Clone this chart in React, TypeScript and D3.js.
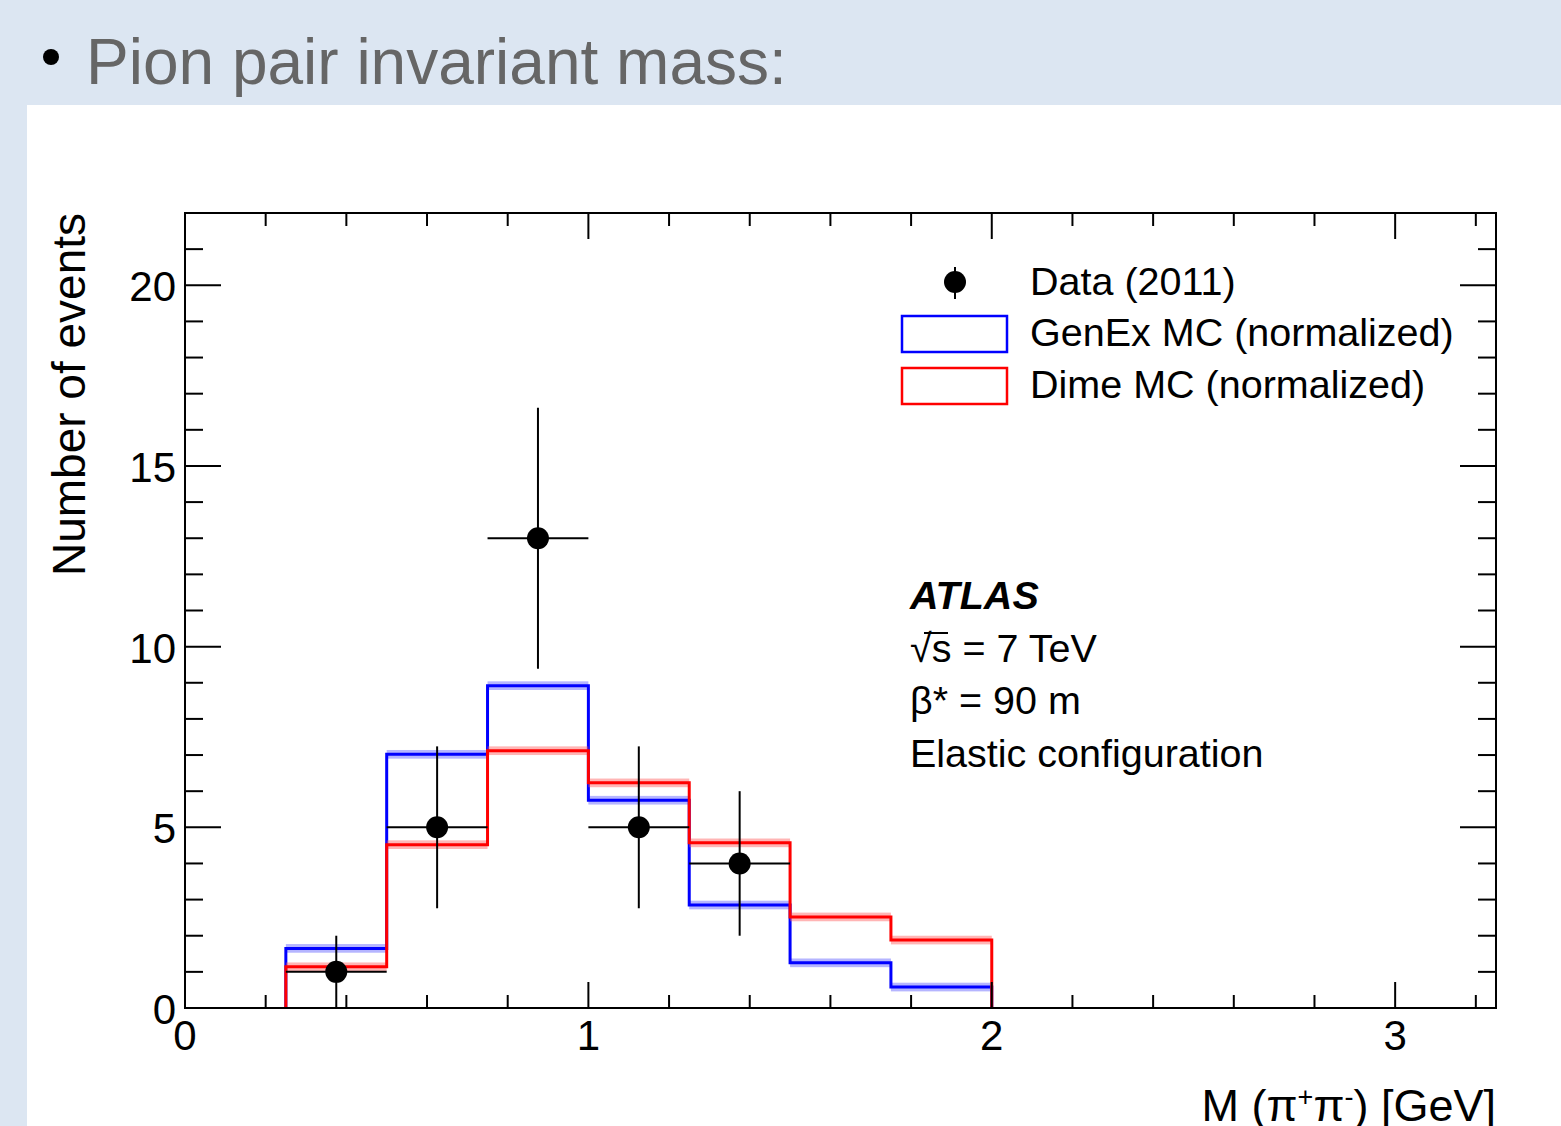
import React from "react";
import * as d3 from "d3";

// bin edges (GeV), width 0.25
const binLow = [0.25, 0.5, 0.75, 1.0, 1.25, 1.5, 1.75];
const binWidth = 0.25;
const genexValues = [1.65, 7.02, 8.92, 5.75, 2.85, 1.25, 0.58];
const dimeValues = [1.14, 4.52, 7.12, 6.23, 4.57, 2.52, 1.88];
const bandHalf = 0.12;

const dataX = [0.375, 0.625, 0.875, 1.125, 1.375];
const dataY = [1, 5, 13, 5, 4];
const dataErr = [1, 2.24, 3.61, 2.24, 2];

const xMajor = [0, 1, 2, 3];
const yMajor = [0, 5, 10, 15, 20];

const W = 1561;
const H = 1126;
const margin = { left: 185, right: 65, top: 213, bottom: 118 };
const font = "'Liberation Sans', Arial, Helvetica, sans-serif";

const x = d3.scaleLinear().domain([0, 3.25]).range([margin.left, W - margin.right]);
const y = d3.scaleLinear().domain([0, 22]).range([H - margin.bottom, margin.top]);

const stepPath = (vals: number[], offset = 0) => {
    const pts: [number, number][] = [[x(binLow[0]), y(0)]];
    vals.forEach((v, i) => {
        pts.push([x(binLow[i]), y(v + offset)]);
        pts.push([x(binLow[i] + binWidth), y(v + offset)]);
    });
    pts.push([x(binLow[binLow.length - 1] + binWidth), y(0)]);
    return d3.line()(pts) as string;
};

const bandRects = (vals: number[], fill: string) =>
    vals.map((v, i) => (
        <rect key={i} x={x(binLow[i])} width={x(binLow[i] + binWidth) - x(binLow[i])}
            y={y(v + bandHalf)} height={y(v - bandHalf) - y(v + bandHalf)} fill={fill} />
    ));

const App = () => {
    const x0 = x.range()[0], x1 = x.range()[1];
    const y0 = y.range()[0], y1 = y.range()[1];
    const xMinor = d3.range(0, 3.25 + 1e-9, 0.2);
    const yMinor = d3.range(0, 22 + 1e-9, 1);

    return (
        <svg width={W} height={H} style={{ position: "absolute", left: 0, top: 0 }}>
            <rect x={0} y={0} width={W} height={H} fill="#dce6f2" />
            <rect x={27} y={105} width={W - 27} height={H - 105} fill="#ffffff" />
            <circle cx={51} cy={57} r={8} fill="#000" />
            <text x={86} y={84} fontFamily={font} fontSize={64} fill="#666666">Pion pair invariant mass:</text>

            {/* MC histograms with bands */}
            <g>{bandRects(genexValues, "rgba(90,90,255,0.45)")}</g>
            <path d={stepPath(genexValues)} fill="none" stroke="#0000ff" strokeWidth={3} />
            <g>{bandRects(dimeValues, "rgba(255,90,90,0.45)")}</g>
            <path d={stepPath(dimeValues)} fill="none" stroke="#ff0000" strokeWidth={3} />

            {/* data with error bars */}
            {dataX.map((dx, i) => (
                <g key={i} stroke="#000" strokeWidth={2}>
                    <line x1={x(dx - binWidth / 2)} x2={x(dx + binWidth / 2)} y1={y(dataY[i])} y2={y(dataY[i])} />
                    <line x1={x(dx)} x2={x(dx)} y1={y(dataY[i] - dataErr[i])} y2={y(dataY[i] + dataErr[i])} />
                    <circle cx={x(dx)} cy={y(dataY[i])} r={11} fill="#000" stroke="none" />
                </g>
            ))}

            {/* frame and ticks */}
            <rect x={x0} y={y1} width={x1 - x0} height={y0 - y1} fill="none" stroke="#000" strokeWidth={2} />
            <g stroke="#000" strokeWidth={2}>
                {xMinor.map((t, i) => {
                    const major = Math.abs(t - Math.round(t)) < 1e-6;
                    const len = major ? 26 : 13;
                    return (
                        <g key={i}>
                            <line x1={x(t)} x2={x(t)} y1={y0} y2={y0 - len} />
                            <line x1={x(t)} x2={x(t)} y1={y1} y2={y1 + len} />
                        </g>
                    );
                })}
                {yMinor.map((t, i) => {
                    const len = t % 5 === 0 ? 36 : 18;
                    return (
                        <g key={i}>
                            <line x1={x0} x2={x0 + len} y1={y(t)} y2={y(t)} />
                            <line x1={x1} x2={x1 - len} y1={y(t)} y2={y(t)} />
                        </g>
                    );
                })}
            </g>
            {xMajor.map((t) => (
                <text key={t} x={x(t)} y={y0 + 42} textAnchor="middle" fontFamily={font} fontSize={42}>{t}</text>
            ))}
            {yMajor.map((t) => (
                <text key={t} x={x0 - 9} y={y(t) + 16} textAnchor="end" fontFamily={font} fontSize={42}>{t}</text>
            ))}
            <text transform="translate(85,213) rotate(-90)" textAnchor="end" fontFamily={font} fontSize={46}>Number of events</text>
            <text x={x1} y={1121} textAnchor="end" fontFamily={font} fontSize={45}>
                M (π<tspan dy={-15} fontSize={27}>+</tspan><tspan dy={15}>π</tspan><tspan dy={-15} fontSize={27}>-</tspan><tspan dy={15}>) [GeV]</tspan>
            </text>

            {/* legend */}
            <g fontFamily={font} fontSize={39.5}>
                <line x1={955} x2={955} y1={267} y2={299} stroke="#000" strokeWidth={2} />
                <circle cx={955} cy={282} r={11} fill="#000" />
                <text x={1030} y={295}>Data (2011)</text>
                <rect x={902} y={316} width={105} height={36} fill="none" stroke="#0000ff" strokeWidth={2.5} />
                <text x={1030} y={346}>GenEx MC (normalized)</text>
                <rect x={902} y={368} width={105} height={36} fill="none" stroke="#ff0000" strokeWidth={2.5} />
                <text x={1030} y={398}>Dime MC (normalized)</text>
            </g>

            <g fontFamily={font} fontSize={39.5}>
                <text x={910} y={609} fontWeight="bold" fontStyle="italic">ATLAS</text>
                <text x={910} y={662}>√s = 7 TeV</text>
                <line x1={924} x2={948} y1={633} y2={633} stroke="#000" strokeWidth={2} />
                <text x={910} y={714}>β* = 90 m</text>
                <text x={910} y={767}>Elastic configuration</text>
            </g>
        </svg>
    );
};

export default App;
